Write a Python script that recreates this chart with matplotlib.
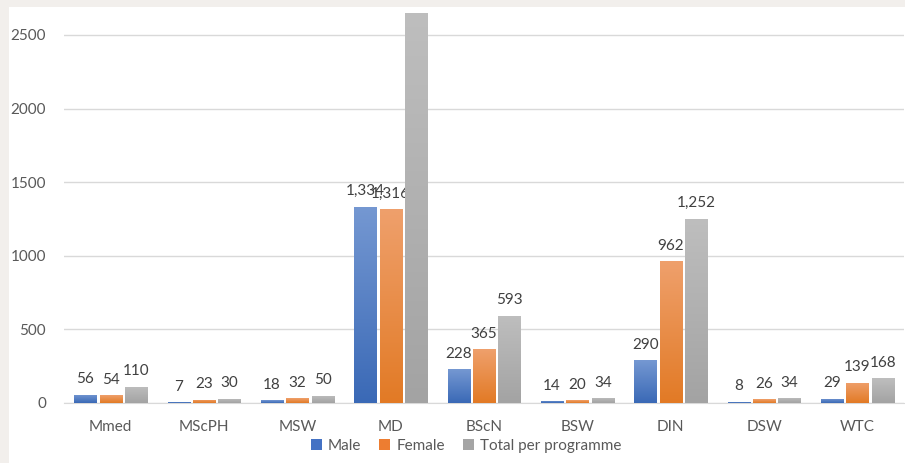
import numpy as np
import matplotlib
matplotlib.use('Agg')
import matplotlib.pyplot as plt
from matplotlib.colors import LinearSegmentedColormap
from matplotlib.patches import Rectangle

programmes      = ['Mmed', 'MScPH', 'MSW', 'MD', 'BScN', 'BSW', 'DIN', 'DSW', 'WTC']
male            = [56, 7, 18, 1334, 228, 14, 290, 8, 29]
female          = [54, 23, 32, 1316, 365, 20, 962, 26, 139]
total           = [110, 30, 50, 2650, 593, 34, 1252, 34, 168]
series_names    = ['Male', 'Female', 'Total per programme']
yticks          = [0, 500, 1000, 1500, 2000, 2500]

plt.rcParams['font.family'] = ['Lato', 'DejaVu Sans']

ymax = 2656

fig = plt.figure(figsize=(9.05, 4.63), dpi=100, facecolor='#f2efec')
fig.patches.append(Rectangle((9/905, 0), 1, 1 - 7/463, transform=fig.transFigure,
                             facecolor='white', edgecolor='none', zorder=-10))
ax = fig.add_axes([64/905, 60/463, 840/905, (403-12)/463])
ax.set_facecolor('none')

# solid fill + (top light -> bottom dark) gradient per series
fills   = ['#4472C4', '#ED7D31', '#A5A5A5']
grads   = [('#3a69b6', '#7598d2'), ('#e27a25', '#efa06c'), ('#a3a3a3', '#bebebe')]
width   = 0.236
step    = 0.273
x       = np.arange(len(programmes))
grad    = np.linspace(0, 1, 256).reshape(-1, 1)

for i, vals in enumerate([male, female, total]):
    bars = ax.bar(x + (i - 1) * step, vals, width, color=fills[i], label=series_names[i], zorder=2)
    cmap = LinearSegmentedColormap.from_list('g%d' % i, list(grads[i]))
    for b, v in zip(bars, vals):
        im = ax.imshow(grad, extent=[b.get_x(), b.get_x() + width, 0, v], origin='lower',
                       aspect='auto', cmap=cmap, zorder=3)
        im.set_clip_path(b)
        if v > ymax - 100:
            continue   # label sits above the cropped top edge
        ax.annotate('{:,}'.format(v), (b.get_x() + width / 2, v), xytext=(0, 6),
                    textcoords='offset points', ha='center', va='bottom',
                    fontsize=11, color='#404040')

ax.set_xlim(-0.5, len(programmes) - 0.5)
ax.set_ylim(0, ymax)
ax.set_yticks(yticks)
ax.set_yticklabels([str(t) for t in yticks])
ax.set_xticks(x)
ax.set_xticklabels(programmes)
ax.tick_params(axis='both', length=0, labelsize=11, labelcolor='#595959')
ax.tick_params(axis='y', pad=13)
ax.tick_params(axis='x', pad=12)
ax.yaxis.grid(True, color='#d9d9d9', linewidth=1)
ax.set_axisbelow(True)
for s in ['top', 'right', 'left']:
    ax.spines[s].set_visible(False)
ax.spines['bottom'].set_color('#d9d9d9')

ax.legend(loc='center', bbox_to_anchor=(466/905, 1 - 446/463), bbox_transform=fig.transFigure,
          ncol=3, frameon=False, fontsize=11, handlelength=0.7, handleheight=0.7,
          handletextpad=0.4, columnspacing=1.2, labelcolor='#595959')

fig.savefig('out.png', dpi=100, facecolor=fig.get_facecolor())
